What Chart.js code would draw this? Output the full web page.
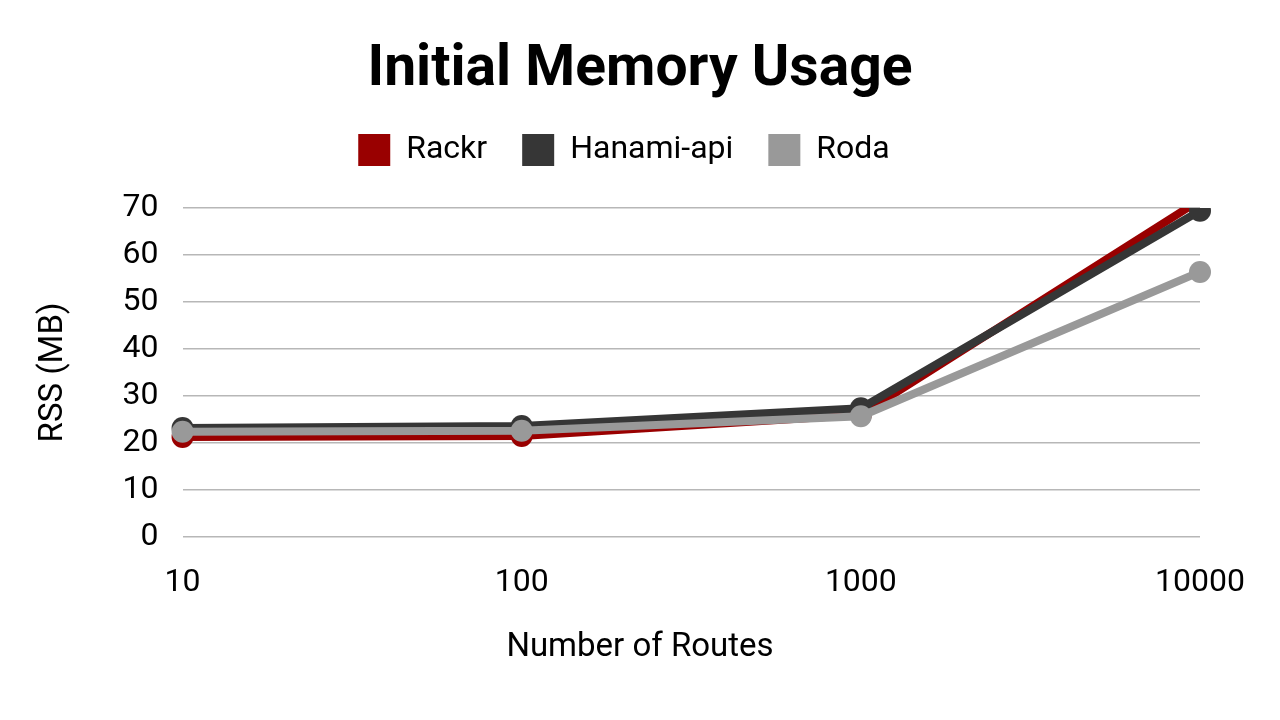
<!DOCTYPE html>
<html>
<head>
<meta charset="utf-8">
<script src="https://cdn.jsdelivr.net/npm/chart.js@4"></script>
<style>
  html, body { margin: 0; padding: 0; background: #fff; }
  #wrap { width: 1280px; height: 720px; }
</style>
</head>
<body>
<div id="wrap"><canvas id="myChart1" width="1280" height="720"></canvas></div>
<script>
// data
const routeLabels = ["10", "100", "1000", "10000"];
const rackrData = [21.3, 21.5, 26.0, 71.7];
const hanamiData = [23.2, 23.6, 27.4, 69.4];
const rodaData = [22.4, 22.6, 25.7, 56.4];

const seriesNames = ["Rackr", "Hanami-api", "Roda"];
const seriesColors = ["#990000", "#363636", "#999999"];

Chart.defaults.font.family = "Roboto";
Chart.defaults.color = "#000";

function makeSet(i, values, drawOrder) {
  return {
    label: seriesNames[i],
    data: values,
    borderColor: seriesColors[i],
    backgroundColor: seriesColors[i],
    borderWidth: 8,
    pointRadius: 11,
    pointBorderWidth: 0,
    pointBackgroundColor: seriesColors[i],
    tension: 0,
    order: drawOrder,
  };
}

// extra room under the legend, and centre the titles on the whole canvas
const layoutTweaks = {
  id: "layoutTweaks",
  beforeLayout(chart) {
    const lg = chart.legend;
    if (lg && !lg._patched) {
      const fit = lg.fit;
      lg.fit = function () {
        fit.call(this);
        this.height += 32;
      };
      lg._patched = true;
    }
  },
  afterLayout(chart) {
    if (chart.titleBlock) {
      chart.titleBlock.left = 0;
      chart.titleBlock.right = chart.width;
    }
    if (chart.legend) {
      chart.legend.left += 10;
      chart.legend.right += 10;
    }
    const xs = chart.scales.x;
    xs.left = 0;
    xs.right = chart.width;
  },
};

const ctx1 = document.getElementById("myChart1").getContext("2d");
const myChart1 = new Chart(ctx1, {
  type: "line",
  data: {
    labels: routeLabels,
    datasets: [
      makeSet(0, rackrData, 3),
      makeSet(1, hanamiData, 2),
      makeSet(2, rodaData, 1),
    ],
  },
  plugins: [layoutTweaks],
  options: {
    responsive: false,
    animation: false,
    layout: { padding: { left: 28, right: 80, top: 0, bottom: 52 } },
    plugins: {
      title: {
        display: true,
        text: "Initial Memory Usage",
        font: { size: 57, weight: "bold", lineHeight: 1.0 },
        color: "#000",
        padding: { top: 42, bottom: 0 },
      },
      legend: {
        position: "top",
        labels: {
          boxWidth: 32,
          boxHeight: 32,
          padding: 35,
          font: { size: 32 },
          color: "#000",
          sort: (a, b) => a.datasetIndex - b.datasetIndex,
          generateLabels(chart) {
            const items = Chart.defaults.plugins.legend.labels.generateLabels(chart);
            items.forEach((it) => { it.lineWidth = 0; });
            return items;
          },
        },
      },
      tooltip: { enabled: false },
    },
    scales: {
      x: {
        offset: false,
        grid: { display: false },
        border: { display: false },
        ticks: { font: { size: 32 }, color: "#000", padding: 19 },
        title: {
          display: true,
          text: "Number of Routes",
          font: { size: 33 },
          color: "#000",
          padding: { top: 7, bottom: 0 },
        },
      },
      y: {
        min: 0,
        max: 70,
        grid: { color: "#b7b7b7", lineWidth: 1.5, drawTicks: false },
        border: { display: false },
        ticks: { stepSize: 10, font: { size: 32 }, color: "#000", padding: 24 },
        title: {
          display: true,
          text: "RSS (MB)",
          font: { size: 33 },
          color: "#000",
          padding: { top: 6, bottom: 25 },
        },
      },
    },
  },
});
</script>
</body>
</html>
